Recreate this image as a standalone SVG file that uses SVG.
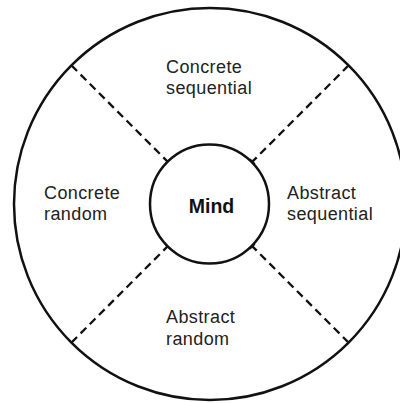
<svg xmlns="http://www.w3.org/2000/svg" width="400" height="403" viewBox="0 0 400 403">
<style>
.ring{fill:none;stroke:#111;stroke-width:2.5}
.dash{stroke:#111;stroke-width:2.3;stroke-dasharray:8 5;fill:none}
.tick{stroke:#111;stroke-width:1.5}
.lbl{font-family:"Liberation Sans",Arial,sans-serif;font-size:18px;fill:#222;letter-spacing:0.4px}
.mind{font-family:"Liberation Sans",Arial,sans-serif;font-size:19.5px;font-weight:bold;fill:#111;text-anchor:middle}
</style>
<rect width="400" height="403" fill="#fff"/>
<g id="outer"><circle class="ring" cx="210" cy="204" r="196"/></g>
<g id="connectors">
<line class="dash" x1="71.4" y1="65.4" x2="167.6" y2="161.6"/>
<line class="dash" x1="348.6" y1="65.4" x2="252.4" y2="161.6"/>
<line class="dash" x1="71.4" y1="342.6" x2="167.6" y2="246.4"/>
<line class="dash" x1="348.6" y1="342.6" x2="252.4" y2="246.4"/>
<line class="tick" x1="69" y1="68" x2="74" y2="63"/>
<line class="tick" x1="165" y1="164" x2="170" y2="159"/>
<line class="tick" x1="351" y1="68" x2="346" y2="63"/>
<line class="tick" x1="255" y1="164" x2="250" y2="159"/>
<line class="tick" x1="69" y1="340" x2="74" y2="345"/>
<line class="tick" x1="165" y1="244" x2="170" y2="249"/>
<line class="tick" x1="351" y1="340" x2="346" y2="345"/>
<line class="tick" x1="255" y1="244" x2="250" y2="249"/>
</g>
<g id="mind"><circle class="ring" cx="209.5" cy="204" r="59.5"/><text class="mind" x="211.5" y="213">Mind</text></g>
<g id="concrete-sequential"><text class="lbl" x="166" y="73">Concrete</text><text class="lbl" x="166" y="94">sequential</text></g>
<g id="concrete-random"><text class="lbl" x="44" y="199">Concrete</text><text class="lbl" x="44" y="220">random</text></g>
<g id="abstract-sequential"><text class="lbl" x="287" y="199">Abstract</text><text class="lbl" x="287" y="220">sequential</text></g>
<g id="abstract-random"><text class="lbl" x="166" y="323">Abstract</text><text class="lbl" x="166" y="345">random</text></g>
</svg>
